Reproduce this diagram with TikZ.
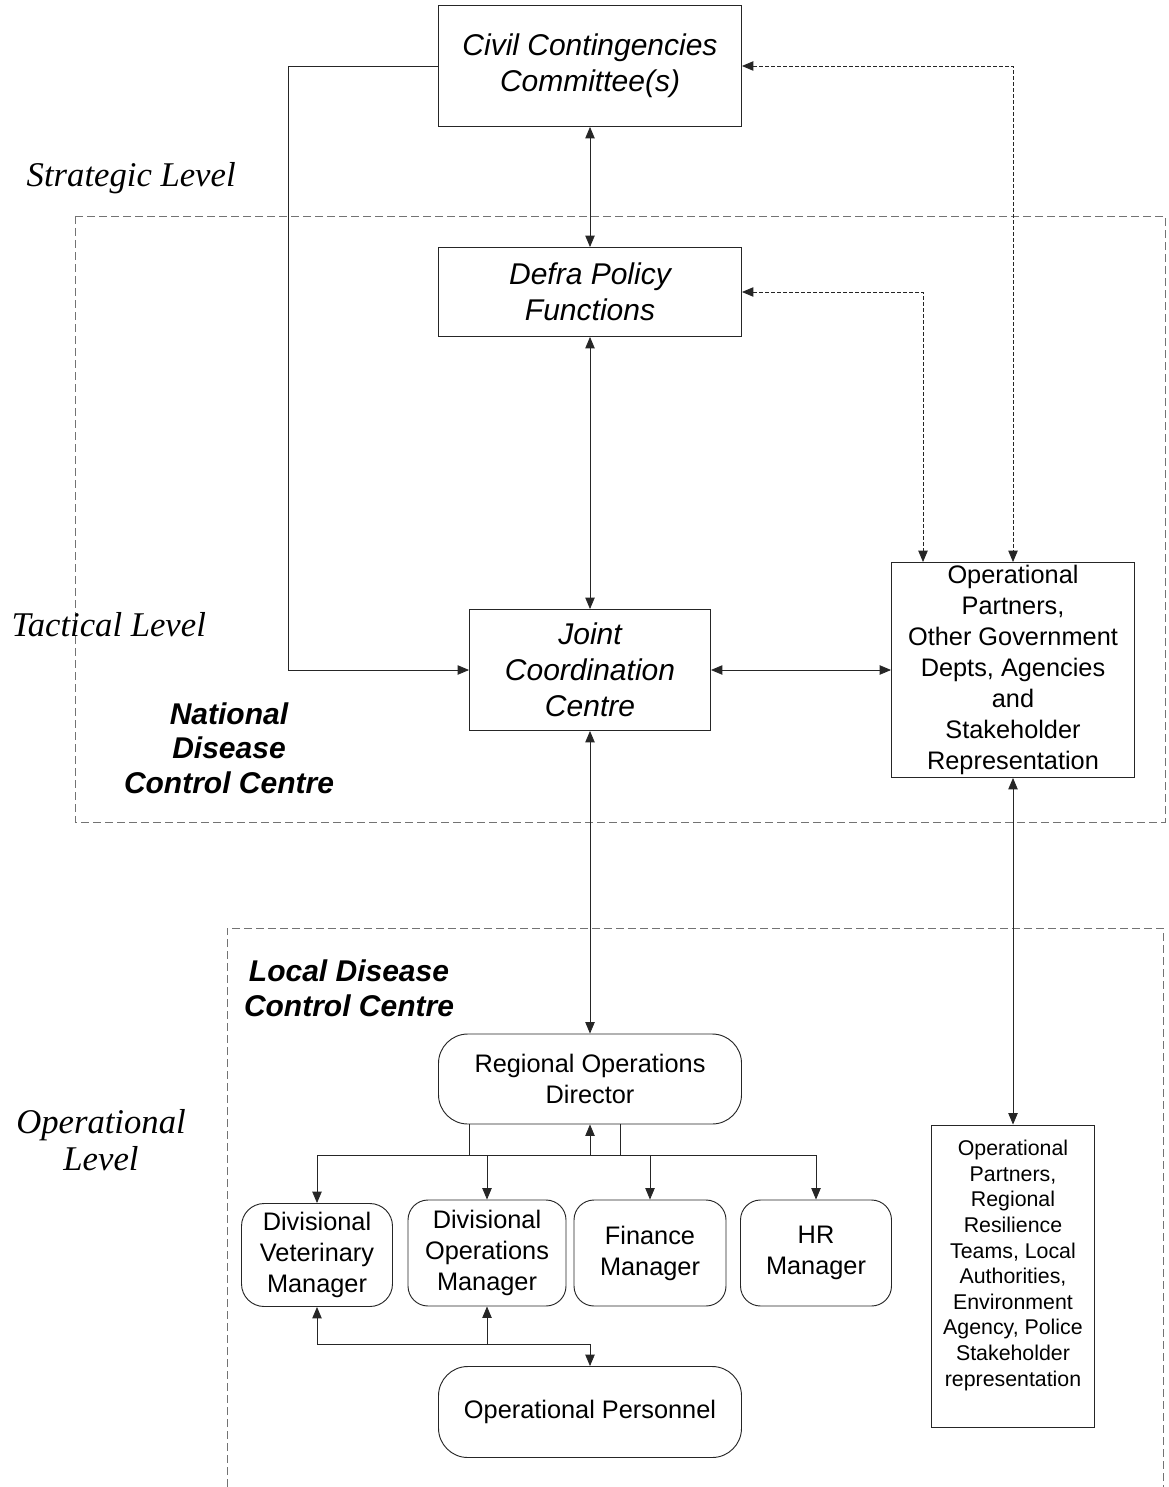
\documentclass[tikz,border=0pt]{standalone}
\usepackage{fontspec}
\setmainfont{Liberation Sans}
\newfontfamily\levelfont{Liberation Serif}
\usetikzlibrary{arrows.meta,calc}

\begin{document}
\begin{tikzpicture}[x=0.75pt, y=-0.75pt,
	>={Triangle[length=8.5pt,width=7pt]},
	box/.style={draw=black!85, line width=0.7pt, align=center, inner sep=2pt},
	rbox/.style={box, rounded corners=#1},
	sized/.style 2 args={minimum width=#1*0.75pt, minimum height=#2*0.75pt},
	region/.style={draw=black!55, dash pattern=on 6pt off 3pt, line width=0.7pt},
	link/.style={line width=0.6pt, draw=black!85},
	partner/.style={link, dash pattern=on 3pt off 1.5pt},
	lvl/.style={font=\levelfont\itshape\fontsize{26}{28}\selectfont, align=center},
	centretext/.style={font=\bfseries\itshape\fontsize{22.5}{26}\selectfont, align=center},
	bigtext/.style={font=\itshape\fontsize{22.5}{27}\selectfont},
	midtext/.style={font=\fontsize{19}{23.25}\selectfont},
	smalltext/.style={font=\fontsize{16}{19.2}\selectfont}
]
\useasboundingbox (0,0) rectangle (1168,1487);

% dashed areas
\draw[region] (75,216) rectangle (1165,822);
\draw[region] (227,1487) -- (227,928) -- (1163,928) -- (1163,1487);

% levels
\node[lvl, anchor=west] (strat) at (22,178) {Strategic Level};
\node[lvl, anchor=west] (tact) at (7,625) {Tactical Level};
\node[lvl] (oper) at (101,1140) {Operational\\Level};
\node[centretext] (ndcc) at (229,748) {National\\Disease\\Control Centre};
\node[centretext] (ldcc) at (349,988) {Local Disease\\Control Centre};

% national
\node[box, sized={303}{121}, bigtext] (ccc) at (590,66) {Civil Contingencies\\Committee(s)};
\node[box, sized={303}{89}, bigtext] (defra) at (590,292) {Defra Policy\\Functions};
\node[box, sized={241}{121}, bigtext] (jcc) at (590,670) {Joint\\Coordination\\Centre};
\node[box, sized={243}{211}, midtext] (opnat) at (1013,670) {Operational\\Partners,\\Other Government\\Depts, Agencies\\and\\Stakeholder\\Representation};

% local
\node[rbox=22pt, sized={303}{90}, midtext] (rod) at (590,1079) {Regional Operations\\Director};
\node[rbox=17pt, sized={151}{103}, midtext] (dvm) at (317,1255) {Divisional\\Veterinary\\Manager};
\node[rbox=15pt, sized={158}{106}, midtext] (dom) at (487,1253) {Divisional\\Operations\\Manager};
\node[rbox=15pt, sized={152}{106}, midtext] (fin) at (650,1253) {Finance\\Manager};
\node[rbox=15pt, sized={151}{106}, midtext] (hr) at (816,1253) {HR\\Manager};
\node[rbox=22pt, sized={303}{91}, midtext] (pers) at (590,1412) {Operational Personnel};
\node[box, sized={163}{302}, smalltext] (opreg) at (1013,1276) {Operational\\Partners,\\Regional\\Resilience\\Teams, Local\\Authorities,\\Environment\\Agency, Police\\Stakeholder\\representation\\\mbox{}};

\coordinate (mbus) at (590,1155);
\coordinate (pbus) at (590,1344);

% links
\draw[link, <->] (ccc.south) -- (defra.north);
\draw[link, <->] (defra.south) -- (jcc.north);
\draw[link, ->] (ccc.west) -- ++(-150,0) |- (jcc.west);
\draw[link, <->] (jcc.east) -- (opnat.west);
\draw[link, <->] (jcc.south) -- (rod.north);
\draw[link, <->] (opnat.south) -- (opreg.north);
\draw[partner, <->] (ccc.east) -| (opnat.north);
\draw[partner, <->] (defra.east) -| ($(opnat.north)+(-90,0)$);

\draw[link, ->] (mbus) -- (rod.south);
\draw[link] ($(rod.south)+(-121,0)$) -- ($(rod.south)+(-121,31)$);
\draw[link] ($(rod.south)+(30,0)$) -- ($(rod.south)+(30,31)$);
\draw[link] (dvm.north |- mbus) -- (hr.north |- mbus);
\foreach \n in {dvm,dom,fin,hr}
	\draw[link, ->] (\n.north |- mbus) -- (\n.north);

\draw[link, <->] (dvm.south) |- (pbus) -- (pers.north);
\draw[link, ->] (dom.south |- pbus) -- (dom.south);
\end{tikzpicture}
\end{document}
